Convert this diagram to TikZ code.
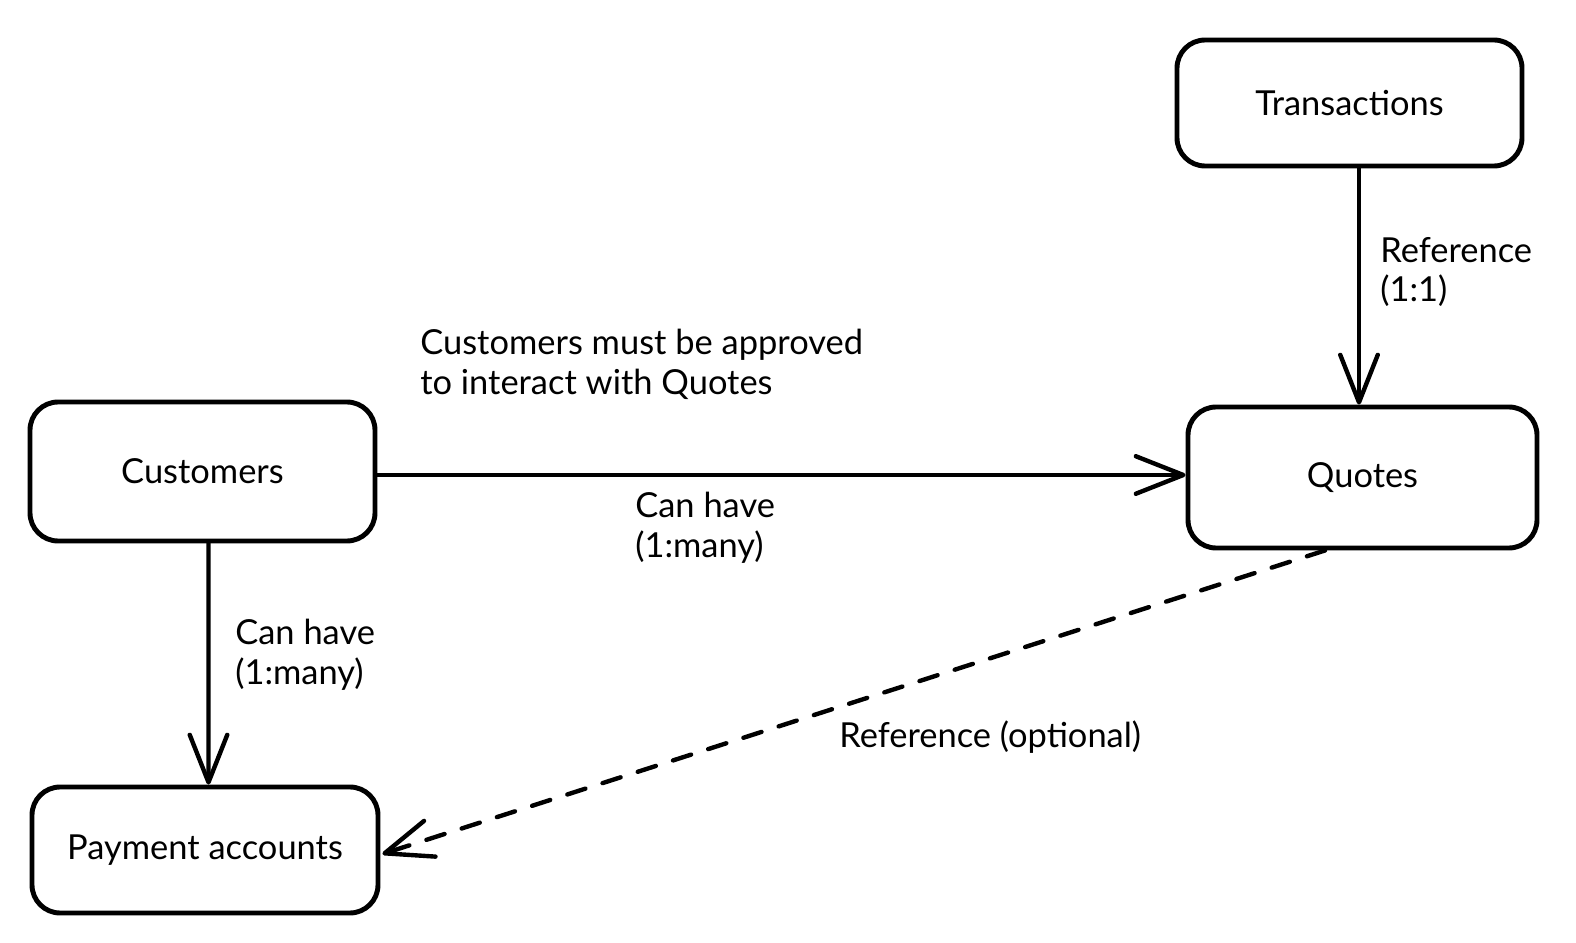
\documentclass[tikz,border=0pt]{standalone}
\usepackage{fontspec}
\setmainfont{Lato}
\usetikzlibrary{arrows.meta,positioning}

\begin{document}
\begin{tikzpicture}[
  every node/.style={font=\fontsize{19.6}{22.7}\selectfont},
  entitybox/.style={draw,line width=2.8pt,rounded corners=16pt,minimum width=6.9cm,
                    minimum height=2.6cm,align=center,inner sep=6pt},
  relarrow/.style={line width=2.5pt,line cap=round,
                   -{Straight Barb[length=0.95cm,width=0.75cm,round]}},
  optarrow/.style={relarrow,dash pattern=on 0.38cm off 0.36cm},
  rellabel/.style={align=left,anchor=west,inner sep=0pt},
]
  \useasboundingbox (0,0) rectangle (31.52,18.84);

  % Entities
  \node[entitybox,minimum height=2.52cm] (trans) at (26.99,16.78) {Transactions};
  \node[entitybox,minimum width=6.98cm,minimum height=2.82cm] (quotes) at (27.25,9.29) {Quotes};
  \node[entitybox,minimum height=2.78cm] (cust) at (4.05,9.41) {Customers};
  \node[entitybox,minimum width=6.92cm,minimum height=2.52cm] (pay) at (4.10,1.84) {Payment accounts};

  % Relations
  \draw[relarrow] ([yshift=-0.07cm]cust.east) -- ([yshift=-0.07cm]cust.east -| quotes.west);
  \draw[relarrow] ([xshift=0.12cm]cust.south) -- ([xshift=0.07cm]pay.north);
  \draw[relarrow] ([xshift=0.19cm]trans.south) -- ([xshift=0.19cm]trans.south |- quotes.north);
  \draw[optarrow] ([xshift=-0.75cm]quotes.south) -- ([xshift=0.04cm,yshift=-0.08cm]pay.east);

  % Labels
  \node[rellabel] (approve) at (8.4,11.56) {Customers must be approved\\to interact with Quotes};
  \node[rellabel] (hasquotes) at (12.7,8.29) {Can have\\(1:many)};
  \node[rellabel] (hasaccounts) at (4.7,5.74) {Can have\\(1:many)};
  \node[rellabel] (refone) at (27.6,13.4) {Reference\\(1:1)};
  \node[rellabel] (refopt) at (16.78,4.1) {Reference (optional)};
\end{tikzpicture}
\end{document}
